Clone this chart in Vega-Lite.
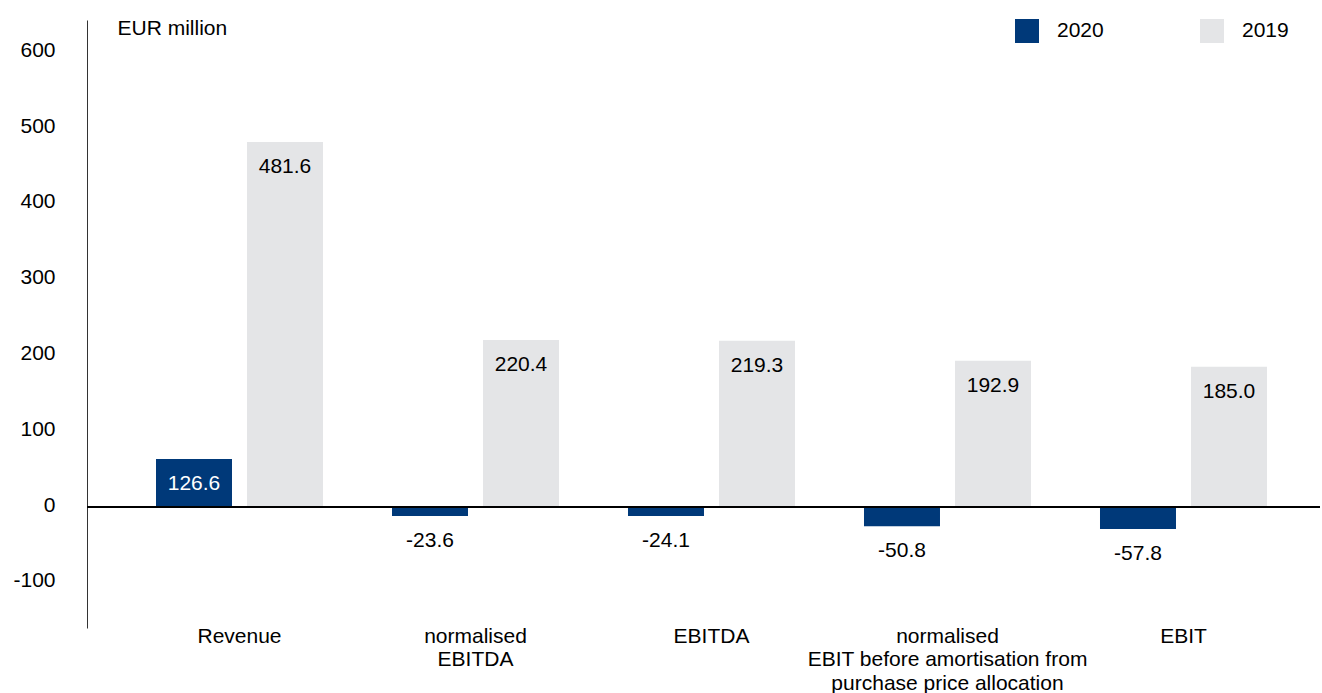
{
  "$schema": "https://vega.github.io/schema/vega-lite/v6.json",
  "width": 1233,
  "height": 608,
  "autosize": {"type": "none"},
  "padding": {"left": 87, "top": 20, "right": 2, "bottom": 65},
  "background": "white",
  "config": {
    "view": {"stroke": null},
    "font": "Liberation Sans",
    "locale": {
      "number": {"decimal": ".", "thousands": ",", "grouping": [3], "currency": ["", ""], "minus": "-"}
    }
  },
  "data": {
    "values": [
      {"category": "Revenue", "year": "2020", "value": 126.6, "bar": 63.3},
      {"category": "Revenue", "year": "2019", "value": 481.6, "bar": 481.6},
      {"category": "normalised|EBITDA", "year": "2020", "value": -23.6, "bar": -11.8},
      {"category": "normalised|EBITDA", "year": "2019", "value": 220.4, "bar": 220.4},
      {"category": "EBITDA", "year": "2020", "value": -24.1, "bar": -12.0},
      {"category": "EBITDA", "year": "2019", "value": 219.3, "bar": 219.3},
      {"category": "normalised|EBIT before amortisation from|purchase price allocation", "year": "2020", "value": -50.8, "bar": -25.4},
      {"category": "normalised|EBIT before amortisation from|purchase price allocation", "year": "2019", "value": 192.9, "bar": 192.9},
      {"category": "EBIT", "year": "2020", "value": -57.8, "bar": -28.9},
      {"category": "EBIT", "year": "2019", "value": 185.0, "bar": 185.0}
    ]
  },
  "layer": [
    {
      "mark": {"type": "bar"},
      "encoding": {
        "x": {
          "field": "category", "type": "nominal", "sort": null,
          "scale": {"paddingInner": 0, "paddingOuter": 0.1123, "align": 0.651},
          "axis": {
            "title": null, "labelExpr": "split(datum.label, '|')", "ticks": false, "domain": false,
            "labelPadding": -2.5, "labelFontSize": 21, "labelLineHeight": 23.3, "labelColor": "#000",
            "labelAngle": 0, "labelBaseline": "top", "labelLimit": 0, "labelOverlap": false, "labelBound": false
          }
        },
        "xOffset": {
          "field": "year", "type": "nominal", "sort": ["2020", "2019"],
          "scale": {"paddingInner": 0.165, "paddingOuter": 0.379}
        },
        "y": {
          "field": "bar", "type": "quantitative",
          "scale": {"domain": [-159.6, 642.5], "nice": false, "zero": false},
          "axis": {
            "title": "EUR million", "titleAngle": 0, "titleX": 30, "titleY": 14.3, "titleAlign": "left",
            "titleBaseline": "alphabetic", "titleFontSize": 21, "titleFontWeight": "normal", "titleColor": "#000",
            "values": [-100, 0, 100, 200, 300, 400, 500, 600], "grid": false, "ticks": false,
            "labelPadding": 32, "labelFontSize": 21, "labelColor": "#000", "labelOffset": -2,
            "domainColor": "#333", "domainWidth": 1
          }
        },
        "color": {
          "field": "year", "type": "nominal",
          "scale": {"domain": ["2020", "2019"], "range": ["#003979", "#e4e5e7"]},
          "legend": {
            "title": null, "orient": "none", "legendX": 928, "legendY": -1, "direction": "horizontal",
            "columns": 2, "symbolType": "square", "symbolSize": 576, "symbolStrokeWidth": 0,
            "labelFontSize": 21, "labelOffset": 18, "columnPadding": 96, "labelColor": "#000", "padding": 0,
            "symbolOpacity": 1
          }
        }
      }
    },
    {
      "mark": {"type": "rule", "color": "#000", "strokeWidth": 1},
      "encoding": {"y": {"datum": 0, "type": "quantitative"}}
    },
    {
      "mark": {"type": "text", "align": "center", "baseline": "middle", "dy": 25, "fontSize": 21},
      "encoding": {
        "x": {"field": "category", "type": "nominal", "sort": null},
        "xOffset": {"field": "year", "type": "nominal", "sort": ["2020", "2019"]},
        "y": {"field": "bar", "type": "quantitative"},
        "text": {"field": "value", "type": "quantitative", "format": ".1f"},
        "color": {
          "condition": {"test": "datum.year == '2020' && datum.bar > 0", "value": "#ffffff"},
          "value": "#000000"
        }
      }
    }
  ]
}
